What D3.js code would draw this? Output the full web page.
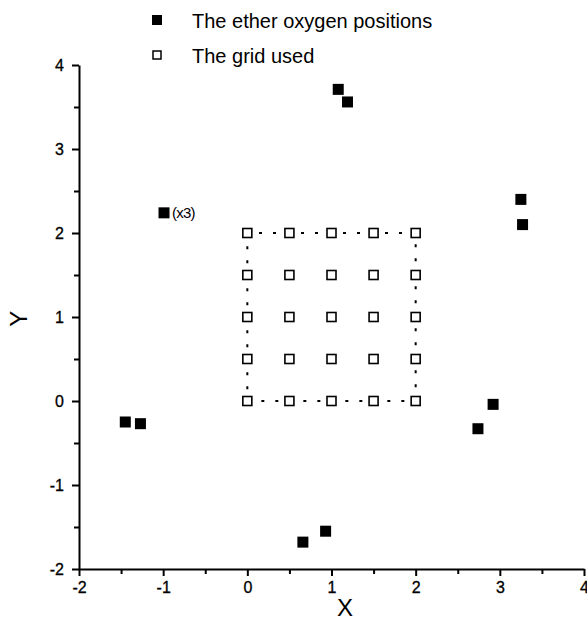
<!DOCTYPE html>
<html>
<head>
<meta charset="utf-8">
<script src="https://cdn.jsdelivr.net/npm/d3@7"></script>
<style>
  body { margin: 0; background: #fff; }
  svg { font-family: "Liberation Sans", Arial, sans-serif; }
</style>
</head>
<body>
<svg id="chart"></svg>
<script>
// ether oxygen positions
const etherX = [1.08, 1.19, -0.99, 3.25, 3.27, -1.45, -1.27, 2.92, 2.74, 0.66, 0.93];
const etherY = [3.71, 3.56, 2.24, 2.40, 2.10, -0.25, -0.27, -0.04, -0.33, -1.68, -1.55];
// grid used
const gridX = [0, 0.5, 1, 1.5, 2];
const gridY = [0, 0.5, 1, 1.5, 2];
// dotted outline of the grid
const outlineX = [0, 2, 2, 0, 0];
const outlineY = [0, 0, 2, 2, 0];
const xTicks = [-2, -1, 0, 1, 2, 3, 4];
const yTicks = [-2, -1, 0, 1, 2, 3, 4];
const seriesNames = ["The ether oxygen positions", "The grid used"];

const config = {
    width: 587, height: 636,
    margin: { top: 65, right: 3, bottom: 67, left: 79 }
};
const width = config.width - config.margin.left - config.margin.right;
const height = config.height - config.margin.top - config.margin.bottom;

const svg = d3.select("#chart")
    .attr("width", config.width)
    .attr("height", config.height);

const chart = svg.append("g")
    .attr("transform", `translate(${config.margin.left},${config.margin.top})`);

const xScale = d3.scaleLinear().domain([-2, 4]).range([0, width]);
const yScale = d3.scaleLinear().domain([-2, 4]).range([height, 0]);

// minor ticks first
const minor = d3.range(-1.5, 4, 1);
chart.append("g")
    .attr("transform", `translate(0,${height})`)
    .call(d3.axisBottom(xScale).tickValues(minor).tickSize(5).tickFormat(""))
    .call(g => g.select(".domain").remove())
    .selectAll("line").attr("stroke-width", 2);
chart.append("g")
    .call(d3.axisLeft(yScale).tickValues(minor).tickSize(5).tickFormat(""))
    .call(g => g.select(".domain").remove())
    .selectAll("line").attr("stroke-width", 2);

// major axes
const fmt = d => String(d);
const xAxisG = chart.append("g")
    .attr("transform", `translate(0,${height})`)
    .call(d3.axisBottom(xScale).tickValues(xTicks).tickFormat(fmt).tickSize(7).tickSizeOuter(0).tickPadding(6));
const yAxisG = chart.append("g")
    .call(d3.axisLeft(yScale).tickValues(yTicks).tickFormat(fmt).tickSize(7).tickSizeOuter(0).tickPadding(8));

[xAxisG, yAxisG].forEach(g => {
    g.attr("font-family", null).attr("font-size", null);
    g.select(".domain").attr("stroke-width", 2);
    g.selectAll(".tick line").attr("stroke-width", 2);
    g.selectAll(".tick text")
        .style("font-size", "16px")
        .attr("fill", "#000")
        .attr("stroke", "#000")
        .attr("stroke-width", 0.3);
});

// axis titles
svg.append("text")
    .attr("x", config.margin.left + xScale(1.16))
    .attr("y", 616)
    .attr("text-anchor", "middle")
    .style("font-size", "24px")
    .text("X");
svg.append("text")
    .attr("transform", `translate(27,${config.margin.top + yScale(0.98)}) rotate(-90)`)
    .attr("text-anchor", "middle")
    .style("font-size", "24px")
    .text("Y");

// dotted outline of the grid
const outline = outlineX.map((x, i) => [x, outlineY[i]]);
chart.append("path")
    .datum(outline)
    .attr("d", d3.line().x(d => xScale(d[0])).y(d => yScale(d[1])))
    .attr("fill", "none")
    .attr("stroke", "#000")
    .attr("stroke-width", 2)
    .attr("stroke-dasharray", "3,11");

// grid points (open squares)
const gridPts = [];
gridX.forEach(x => gridY.forEach(y => gridPts.push({ x, y })));
const gs = 9;
chart.selectAll(".grid-pt")
    .data(gridPts)
    .enter()
    .append("rect")
    .attr("class", "grid-pt")
    .attr("x", d => xScale(d.x) - gs / 2)
    .attr("y", d => yScale(d.y) - gs / 2)
    .attr("width", gs)
    .attr("height", gs)
    .attr("fill", "#fff")
    .attr("stroke", "#000")
    .attr("stroke-width", 1.6);

// ether points (filled squares)
const es = 11;
const etherPts = etherX.map((x, i) => ({ x, y: etherY[i] }));
chart.selectAll(".ether-pt")
    .data(etherPts)
    .enter()
    .append("rect")
    .attr("class", "ether-pt")
    .attr("x", d => xScale(d.x) - es / 2)
    .attr("y", d => yScale(d.y) - es / 2)
    .attr("width", es)
    .attr("height", es)
    .attr("fill", "#000");

// multiplicity note
chart.append("text")
    .attr("x", xScale(-0.99) + 8)
    .attr("y", yScale(2.24) + 5)
    .style("font-size", "15px")
    .style("letter-spacing", "-0.8px")
    .text("(x3)");

// legend
const legend = svg.append("g").attr("transform", "translate(157,0)");
legend.append("rect")
    .attr("x", -5).attr("y", 15).attr("width", 10).attr("height", 10)
    .attr("fill", "#000");
legend.append("rect")
    .attr("x", -4).attr("y", 51).attr("width", 8).attr("height", 8)
    .attr("fill", "#fff").attr("stroke", "#000").attr("stroke-width", 1.5);
legend.selectAll(".legend-text")
    .data(seriesNames)
    .enter()
    .append("text")
    .attr("class", "legend-text")
    .attr("x", 35)
    .attr("y", (d, i) => 28 + i * 35)
    .style("font-size", "20px")
    .text(d => d);
</script>
</body>
</html>
